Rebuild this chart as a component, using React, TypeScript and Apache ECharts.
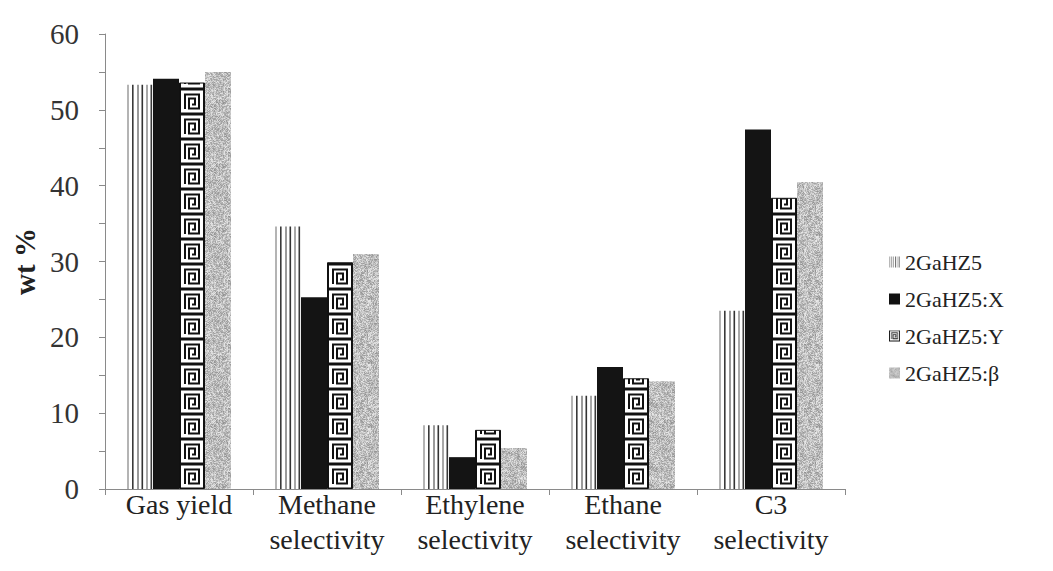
import React, { useEffect, useRef } from "react";
import * as echarts from "echarts";

const categories = [
  "Gas yield",
  "Methane\nselectivity",
  "Ethylene\nselectivity",
  "Ethane\nselectivity",
  "C3\nselectivity",
];
const seriesNames = ["2GaHZ5", "2GaHZ5:X", "2GaHZ5:Y", "2GaHZ5:β"];
const gaHZ5 = [53.3, 34.6, 8.4, 12.3, 23.5];
const gaHZ5X = [54.1, 25.3, 4.2, 16.1, 47.4];
const gaHZ5Y = [53.6, 29.9, 7.8, 14.6, 38.4];
const gaHZ5Beta = [55.0, 31.0, 5.4, 14.2, 40.5];
const yTickLabels = [0, 10, 20, 30, 40, 50, 60];

const GRID_LEFT = 105;
const GRID_TOP = 34;
const GRID_W = 740;
const GRID_H = 455;
const BAND = GRID_W / categories.length; // 148
const BAR_W = 26;
const SPIRAL_H = 25;

function makeCanvas(w: number, h: number, draw: (ctx: CanvasRenderingContext2D) => void) {
  const c = document.createElement("canvas");
  c.width = w;
  c.height = h;
  const ctx = c.getContext("2d") as CanvasRenderingContext2D;
  draw(ctx);
  return c;
}

function hash(x: number, y: number) {
  let h = (x * 374761393 + y * 668265263) | 0;
  h = Math.imul(h ^ (h >>> 13), 1274126177);
  h = h ^ (h >>> 16);
  return (h >>> 0) % 256;
}

function drawStripes(ctx: CanvasRenderingContext2D, h: number, scale = 1) {
  ctx.fillStyle = "#ffffff";
  ctx.fillRect(0, 0, 26 * scale, h);
  const lines: [number, number, string][] = [
    [0, 2, "#b4b4b4"],
    [5, 1.6, "#3a3a3a"],
    [10, 2, "#9a9a9a"],
    [14.5, 1.6, "#333333"],
    [19, 2, "#a8a8a8"],
    [23.5, 1.6, "#3a3a3a"],
  ];
  lines.forEach(([x, lw, c]) => {
    ctx.fillStyle = c;
    ctx.fillRect(x * scale, 0, lw * scale, h);
  });
}

function drawSpiral(ctx: CanvasRenderingContext2D) {
  ctx.fillStyle = "#111";
  ctx.fillRect(0, 0, 26, 25);
  ctx.fillStyle = "#fff";
  ctx.fillRect(2, 1.5, 22, 22);
  ctx.strokeStyle = "#111";
  ctx.lineWidth = 2;
  ctx.beginPath();
  ctx.moveTo(6, 20);
  ctx.lineTo(6, 5.5);
  ctx.lineTo(20, 5.5);
  ctx.lineTo(20, 19.5);
  ctx.lineTo(10, 19.5);
  ctx.lineTo(10, 9.5);
  ctx.lineTo(16, 9.5);
  ctx.lineTo(16, 15.5);
  ctx.lineTo(13, 15.5);
  ctx.stroke();
}

function drawNoise(ctx: CanvasRenderingContext2D, w: number, h: number) {
  const img = ctx.createImageData(w, h);
  for (let y = 0; y < h; y++) {
    for (let x = 0; x < w; x++) {
      const n = hash(x, y);
      const blob = hash(x >> 2, y >> 2) % 24;
      const v = 236 - Math.floor((n * 70) / 255) - blob;
      const i = (y * w + x) * 4;
      img.data[i] = v;
      img.data[i + 1] = v;
      img.data[i + 2] = v;
      img.data[i + 3] = 255;
    }
  }
  ctx.putImageData(img, 0, 0);
}

// draw a tile into a canvas of size (w,h) at offset (ox,oy), wrapping around edges
function wrapDraw(
  ctx: CanvasRenderingContext2D,
  w: number,
  h: number,
  ox: number,
  oy: number,
  draw: (ctx: CanvasRenderingContext2D) => void
) {
  const mx = ((ox % w) + w) % w;
  const my = ((oy % h) + h) % h;
  for (const dx of [mx - w, mx]) {
    for (const dy of [my - h, my]) {
      ctx.save();
      ctx.translate(dx, dy);
      draw(ctx);
      ctx.restore();
    }
  }
}

export default function App() {
  const ref = useRef<HTMLDivElement>(null);

  useEffect(() => {
    if (!ref.current) return;
    const chart = echarts.init(ref.current, null, { renderer: "svg" });

    const center0 = GRID_LEFT + BAND / 2;
    const baseY = GRID_TOP + GRID_H;

    const stripeCanvas = makeCanvas(BAND, 4, (ctx) =>
      wrapDraw(ctx, BAND, 4, center0 - 2 * BAR_W, 0, (c) => drawStripes(c, 4))
    );
    const spiralCanvas = makeCanvas(BAND, SPIRAL_H, (ctx) =>
      wrapDraw(ctx, BAND, SPIRAL_H, center0, baseY, (c) => drawSpiral(c))
    );
    const noiseCanvas = makeCanvas(64, 64, (ctx) => drawNoise(ctx, 64, 64));

    const stripePattern: any = {
      image: stripeCanvas,
      repeat: "repeat",
      imageWidth: BAND,
      imageHeight: 4,
    };
    const spiralPattern: any = {
      image: spiralCanvas,
      repeat: "repeat",
      imageWidth: BAND,
      imageHeight: SPIRAL_H,
    };
    const noisePattern: any = {
      image: noiseCanvas,
      repeat: "repeat",
      imageWidth: 64,
      imageHeight: 64,
    };

    const icon = (draw: (ctx: CanvasRenderingContext2D) => void) =>
      "image://" + makeCanvas(26, 26, draw).toDataURL();
    const legendIcons = [
      icon((ctx) => drawStripes(ctx, 26)),
      icon((ctx) => {
        ctx.fillStyle = "#111";
        ctx.fillRect(0, 0, 26, 26);
      }),
      icon((ctx) => {
        drawSpiral(ctx);
        ctx.fillStyle = "#111";
        ctx.fillRect(0, 24, 26, 2);
      }),
      icon((ctx) => drawNoise(ctx, 26, 26)),
    ];

    const colors = [stripePattern, "#141414", spiralPattern, noisePattern];
    const values = [gaHZ5, gaHZ5X, gaHZ5Y, gaHZ5Beta];

    chart.setOption({
      animation: false,
      grid: { left: GRID_LEFT, top: GRID_TOP, width: GRID_W, height: GRID_H },
      legend: {
        orient: "vertical",
        left: 884,
        top: 246,
        itemWidth: 11,
        itemHeight: 12,
        itemGap: 15,
        textStyle: { fontFamily: "Liberation Serif", fontSize: 22, color: "#222" },
        data: seriesNames.map((n, i) => ({ name: n, icon: legendIcons[i] })),
      },
      xAxis: {
        type: "category",
        data: categories,
        axisLine: { lineStyle: { color: "#8a8a8a", width: 1 } },
        axisTick: { show: true, length: 6, lineStyle: { color: "#8a8a8a" } },
        axisLabel: {
          interval: 0,
          fontFamily: "Liberation Serif",
          fontSize: 28,
          lineHeight: 35,
          color: "#222",
          margin: -2,
        },
      },
      yAxis: {
        type: "value",
        min: 0,
        max: 60,
        interval: 5,
        name: "wt %",
        nameLocation: "middle",
        nameGap: 58,
        nameTextStyle: {
          fontFamily: "Liberation Serif",
          fontSize: 29,
          fontWeight: "bold",
          color: "#222",
        },
        axisLine: { show: true, lineStyle: { color: "#8a8a8a", width: 1 } },
        axisTick: { show: true, length: 6, lineStyle: { color: "#8a8a8a" } },
        splitLine: { show: false },
        axisLabel: {
          fontFamily: "Liberation Serif",
          fontSize: 29,
          color: "#333",
          margin: 26,
          formatter: (v: number) => (yTickLabels.includes(v) ? String(v) : ""),
        },
      },
      series: seriesNames.map((n, i) => ({
        name: n,
        type: "bar",
        barWidth: BAR_W,
        barGap: "0%",
        data: values[i],
        itemStyle:
          i === 2
            ? { color: colors[i], borderColor: "#111", borderWidth: 1 }
            : { color: colors[i] },
        emphasis: { disabled: true },
      })),
    });

    return () => chart.dispose();
  }, []);

  return (
    <div
      ref={ref}
      style={{ position: "fixed", left: 0, top: 0, width: 1053, height: 571, background: "#fff" }}
    />
  );
}
